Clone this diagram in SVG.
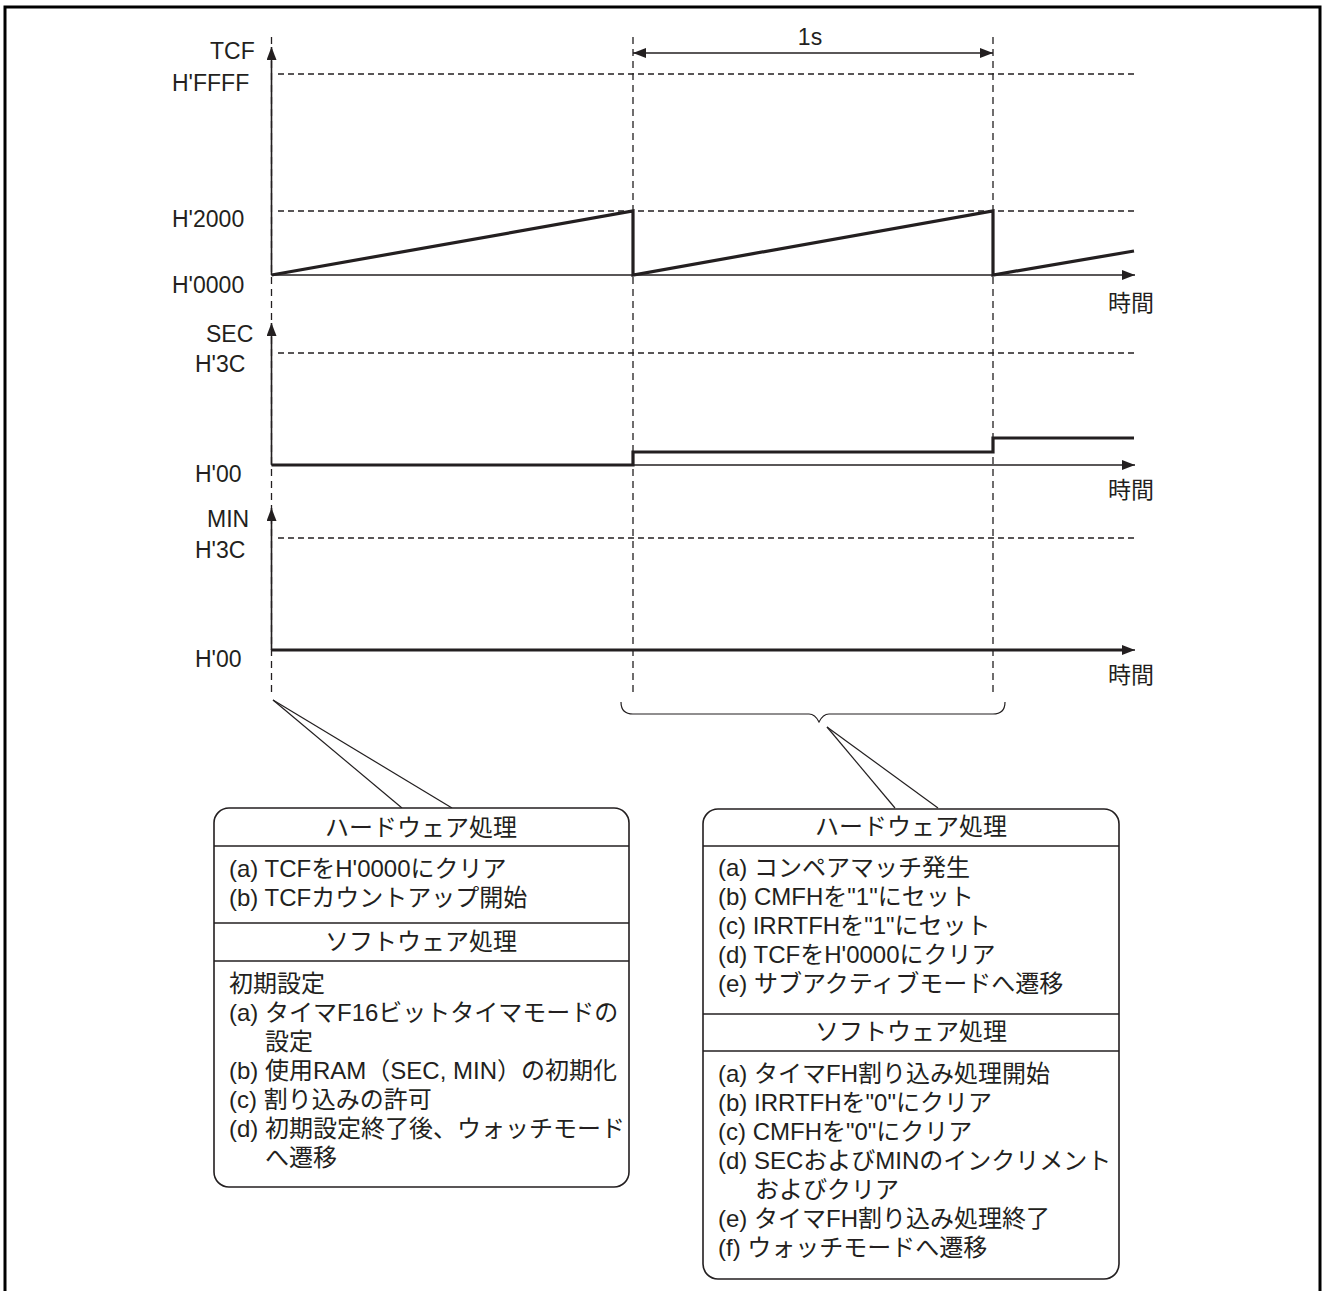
<svg xmlns="http://www.w3.org/2000/svg" width="1324" height="1291" viewBox="0 0 1324 1291">
<defs>
<style>
text{font-family:"Liberation Sans","Noto Sans CJK JP",sans-serif;font-size:23px;fill:#231f20}
.bt{font-size:24px}
.mid{text-anchor:middle}
.dash{stroke:#231f20;stroke-width:1.3;stroke-dasharray:6 4;fill:none}
.vdash{stroke:#231f20;stroke-width:1.3;stroke-dasharray:7 5;fill:none}
.axis{stroke:#231f20;stroke-width:1.6;fill:none}
.sig{stroke:#231f20;stroke-width:3.2;fill:none;stroke-linejoin:miter}
.box{fill:#fff;stroke:#231f20;stroke-width:1.6}
.div{stroke:#231f20;stroke-width:1.6}
.lead{stroke:#231f20;stroke-width:1.2;fill:none}
</style>
<marker id="ah" viewBox="0 0 13 10" refX="13" refY="5" markerWidth="13" markerHeight="10" markerUnits="userSpaceOnUse" orient="auto-start-reverse">
<path d="M0,0 L13,5 L0,10 z" fill="#231f20"/>
</marker>
</defs>
<rect width="1324" height="1291" fill="#fff"/>
<path d="M5,1300 V7 H1320 V1300" fill="none" stroke="#000" stroke-width="3"/>

<g id="grid">
<line class="vdash" x1="271.5" y1="37" x2="271.5" y2="693"/>
<line class="vdash" x1="633" y1="37" x2="633" y2="693"/>
<line class="vdash" x1="993" y1="37" x2="993" y2="693"/>
<line class="dash" x1="278" y1="74" x2="1134" y2="74"/>
<line class="dash" x1="278" y1="211" x2="1134" y2="211"/>
<line class="dash" x1="278" y1="353" x2="1134" y2="353"/>
<line class="dash" x1="278" y1="538" x2="1134" y2="538"/>
</g>

<g id="tcf-chart">
<line class="axis" x1="271.5" y1="275" x2="271.5" y2="47" marker-end="url(#ah)"/>
<line class="axis" x1="271.5" y1="275" x2="1135" y2="275" marker-end="url(#ah)"/>
<polyline class="sig" points="271.5,275 633,211 633,275 993,211 993,275 1134,251"/>
<text x="210" y="59">TCF</text>
<text x="172" y="91">H'FFFF</text>
<text x="172" y="227">H'2000</text>
<text x="172" y="293">H'0000</text>
<text x="1108" y="311">時間</text>
</g>

<g id="period">
<line class="axis" x1="633" y1="53" x2="993" y2="53" marker-start="url(#ah)" marker-end="url(#ah)"/>
<text class="mid" x="810" y="45">1s</text>
</g>

<g id="sec-chart">
<line class="axis" x1="271.5" y1="465" x2="271.5" y2="323" marker-end="url(#ah)"/>
<line class="axis" x1="271.5" y1="465" x2="1135" y2="465" marker-end="url(#ah)"/>
<polyline class="sig" points="271.5,465 633,465 633,452 993,452 993,438 1134,438"/>
<text x="206" y="342">SEC</text>
<text x="195" y="372">H'3C</text>
<text x="195" y="482">H'00</text>
<text x="1108" y="498">時間</text>
</g>

<g id="min-chart">
<line class="axis" x1="271.5" y1="650" x2="271.5" y2="508" marker-end="url(#ah)"/>
<line class="axis" x1="271.5" y1="650" x2="1135" y2="650" marker-end="url(#ah)"/>
<line class="sig" x1="271.5" y1="650" x2="1123" y2="650"/>
<text x="207" y="527">MIN</text>
<text x="195" y="558">H'3C</text>
<text x="195" y="667">H'00</text>
<text x="1108" y="683">時間</text>
</g>

<g id="connectors">
<path class="lead" d="M621,702 Q621,714 633,714 H809 Q815,714 819,722 Q823,714 829,714 H993 Q1005,714 1005,702"/>
<line class="lead" x1="273" y1="700" x2="402" y2="808"/>
<line class="lead" x1="273" y1="700" x2="452" y2="808"/>
<line class="lead" x1="827" y1="727" x2="895" y2="808"/>
<line class="lead" x1="827" y1="727" x2="938" y2="808"/>
</g>

<g id="box-initial" class="bt">
<rect class="box" x="214" y="808" width="415" height="379" rx="15"/>
<line class="div" x1="214" y1="846" x2="629" y2="846"/>
<line class="div" x1="214" y1="923" x2="629" y2="923"/>
<line class="div" x1="214" y1="961" x2="629" y2="961"/>
<text class="bt mid" x="421" y="836">ハードウェア処理</text>
<text class="bt" x="229" y="877">(a) TCFをH'0000にクリア</text>
<text class="bt" x="229" y="906">(b) TCFカウントアップ開始</text>
<text class="bt mid" x="421" y="950">ソフトウェア処理</text>
<text class="bt" x="229" y="992">初期設定</text>
<text class="bt" x="229" y="1021">(a) タイマF16ビットタイマモードの</text>
<text class="bt" x="265" y="1050">設定</text>
<text class="bt" x="229" y="1079">(b) 使用RAM（SEC, MIN）の初期化</text>
<text class="bt" x="229" y="1108">(c) 割り込みの許可</text>
<text class="bt" x="229" y="1137">(d) 初期設定終了後、ウォッチモード</text>
<text class="bt" x="265" y="1166">へ遷移</text>
</g>

<g id="box-interrupt">
<rect class="box" x="703" y="809" width="416" height="470" rx="15"/>
<line class="div" x1="703" y1="846" x2="1119" y2="846"/>
<line class="div" x1="703" y1="1014" x2="1119" y2="1014"/>
<line class="div" x1="703" y1="1051" x2="1119" y2="1051"/>
<text class="bt mid" x="911" y="835">ハードウェア処理</text>
<text class="bt" x="718" y="876">(a) コンペアマッチ発生</text>
<text class="bt" x="718" y="905">(b) CMFHを"1"にセット</text>
<text class="bt" x="718" y="934">(c) IRRTFHを"1"にセット</text>
<text class="bt" x="718" y="963">(d) TCFをH'0000にクリア</text>
<text class="bt" x="718" y="992">(e) サブアクティブモードへ遷移</text>
<text class="bt mid" x="911" y="1040">ソフトウェア処理</text>
<text class="bt" x="718" y="1082">(a) タイマFH割り込み処理開始</text>
<text class="bt" x="718" y="1111">(b) IRRTFHを"0"にクリア</text>
<text class="bt" x="718" y="1140">(c) CMFHを"0"にクリア</text>
<text class="bt" x="718" y="1169">(d) SECおよびMINのインクリメント</text>
<text class="bt" x="755" y="1198">およびクリア</text>
<text class="bt" x="718" y="1227">(e) タイマFH割り込み処理終了</text>
<text class="bt" x="718" y="1256">(f) ウォッチモードへ遷移</text>
</g>
</svg>
